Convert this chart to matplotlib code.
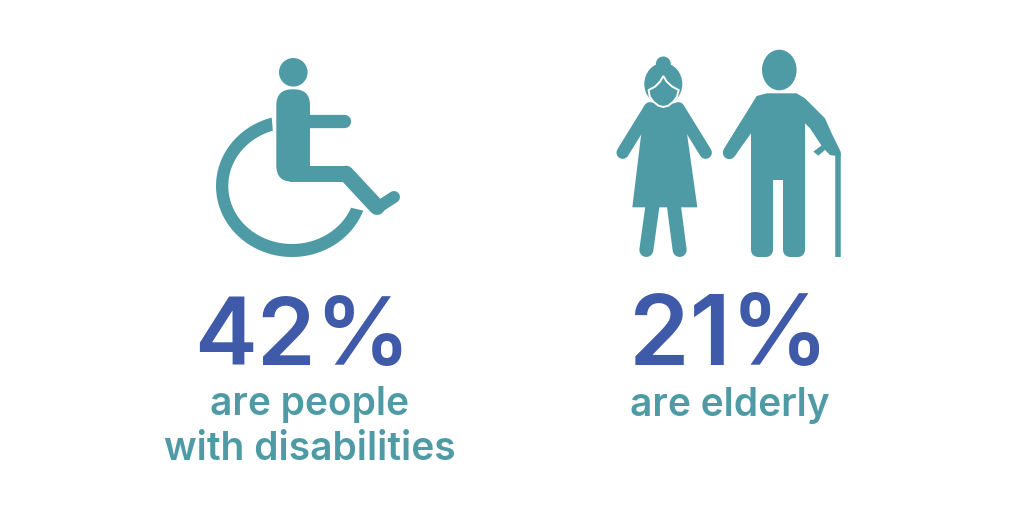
import numpy as np
import matplotlib
matplotlib.use("Agg")
import matplotlib.pyplot as plt
from matplotlib.patches import Circle, Ellipse, Polygon, Rectangle, FancyBboxPatch

TEAL = "#4f9ba5"
BLUE = "#3f5aa9"

percents = ["42%", "21%"]
percent_x = [302, 729]
percent_size = [68, 70]
caption_lines = ["are people", "with disabilities", "are elderly"]
caption_x = [309.5, 309.5, 729.5]
caption_y = [415, 460, 416]

plt.rcParams["font.family"] = ["Inter", "DejaVu Sans"]

fig = plt.figure(figsize=(10.24, 5.12), dpi=100)
ax = fig.add_axes([0, 0, 1, 1])
ax.set_xlim(0, 1024)
ax.set_ylim(512, 0)
ax.axis("off")


def stroke(points, width, cap="round"):
    xs = [p[0] for p in points]
    ys = [p[1] for p in points]
    # linewidth is in points, the axes are in pixels at dpi 100
    ax.plot(xs, ys, color=TEAL, lw=width * 0.72, solid_capstyle=cap, solid_joinstyle="round")


def poly(points, **kw):
    kw.setdefault("facecolor", TEAL)
    kw.setdefault("edgecolor", "none")
    ax.add_patch(Polygon(points, closed=True, **kw))


def zoomed(points, ox, oy):
    return [(ox + x / 3, oy + y / 3) for x, y in points]


# wheelchair user, the ring is slightly wider than tall
cx, cy = 292, 186
t_out = np.radians(np.linspace(20.3, 254.5, 80))
t_in = np.radians(np.linspace(252.5, 22, 80))
ring = np.r_[np.c_[cx + 76 * np.cos(t_out), cy + 71 * np.sin(t_out)],
             np.c_[cx + 63.7 * np.cos(t_in), cy + 58 * np.sin(t_in)]]
poly(ring)

ax.add_patch(Circle((293.3, 72.3), 14.3, facecolor=TEAL, edgecolor="none"))
ax.add_patch(FancyBboxPatch((276.3 + 16, 89.3 + 16), 33.7 - 32, 92.4 - 32, boxstyle="round,pad=16,rounding_size=16",
                            facecolor=TEAL, edgecolor="none"))
stroke([(305, 121.3), (343.5, 121.3)], 13.3)
ax.add_patch(Rectangle((290, 165.7), 58, 16, facecolor=TEAL, edgecolor="none"))
stroke([(346, 173.7), (377, 207)], 16)
stroke([(377, 208), (394, 197)], 12)

# elderly woman
ox, oy = 610, 40
ax.add_patch(Circle((663.3, 64), 7.5, facecolor=TEAL, edgecolor="none"))
ax.add_patch(Ellipse((663.3, 84), 38, 42, facecolor=TEAL, edgecolor="none"))
stroke(zoomed([(120, 205), (38, 338)], ox, oy), 12.5)
stroke(zoomed([(205, 205), (287, 338)], ox, oy), 12.5)
poly(zoomed([(125, 190), (200, 190), (222, 210), (233, 295), (262, 502), (67, 502), (92, 295), (103, 210)], ox, oy))
stroke(zoomed([(127, 500), (109, 630)], ox, oy), 14)
stroke(zoomed([(192, 500), (209, 630)], ox, oy), 14)
face = [(160, 108), (150, 125), (135, 140), (116, 150), (119, 170), (130, 185), (145, 197), (160, 201),
        (175, 197), (190, 185), (201, 170), (206, 150), (187, 140), (170, 125)]
poly(zoomed(face, ox, oy), edgecolor="white", linewidth=1.4)

# elderly man with cane
ax.add_patch(Ellipse((779.3, 70), 34.6, 40.6, facecolor=TEAL, edgecolor="none"))
man = [(470, 160), (560, 160), (585, 175), (645, 235), (665, 280), (692, 335), (692, 350), (660, 345),
       (640, 325), (600, 265), (585, 250), (585, 420), (423, 420), (423, 280), (375, 347), (341, 329), (440, 168)]
poly(zoomed(man, ox, oy))
stroke(zoomed([(411, 253), (358, 338)], ox, oy), 13)
stroke(zoomed([(445, 420), (445, 630), (467, 630), (467, 420)], ox, oy), 14)
stroke(zoomed([(541, 420), (541, 630), (563, 630), (563, 420)], ox, oy), 14)
stroke(zoomed([(684, 650), (684, 340)], ox, oy), 5.5, cap="butt")
poly(zoomed([(610, 335), (635, 316), (645, 330), (625, 347)], ox, oy))

# numbers and captions
for x, p, s in zip(percent_x, percents, percent_size):
    ax.text(x, 365, p, color=BLUE, fontsize=s, fontweight="semibold", ha="center", va="baseline")
for x, y, c in zip(caption_x, caption_y, caption_lines):
    ax.text(x, y, c, color=TEAL, fontsize=28, fontweight="semibold", ha="center", va="baseline")

fig.savefig("out.png", dpi=100, facecolor="white")
